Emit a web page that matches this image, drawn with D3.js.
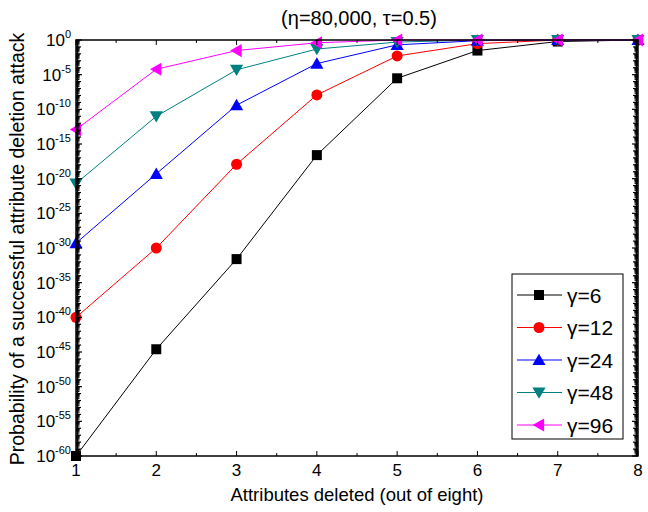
<!DOCTYPE html>
<html>
<head>
<meta charset="utf-8">
<script src="https://cdn.jsdelivr.net/npm/d3@7"></script>
<style>
  html, body { margin: 0; padding: 0; background: #fff; }
  svg { display: block; font-family: Arial, "Liberation Sans", Helvetica, sans-serif; }
</style>
</head>
<body>
<svg id="chart" width="648" height="512"></svg>
<script>
// Attributes deleted (x) and probability for each gamma setting
const attributes = [1, 2, 3, 4, 5, 6, 7, 8];
const gamma6  = [1e-60, 2.5e-45, 2.5e-32, 2.5e-17, 3e-6, 3e-2, 0.6, 1];
const gamma12 = [1e-40, 1e-30, 1.2e-18, 1.2e-8, 5e-3, 0.3, 1, 1];
const gamma24 = [5e-30, 5e-20, 4e-10, 4e-4, 0.2, 0.8, 1, 1];
const gamma48 = [2e-21, 1e-11, 5e-5, 0.05, 0.5, 1, 1, 1];
const gamma96 = [1.2e-13, 6e-5, 0.03, 0.4, 1, 1, 1, 1];
const seriesNames = ["γ=6", "γ=12", "γ=24", "γ=48", "γ=96"];
const yTickExponents = [0, -5, -10, -15, -20, -25, -30, -35, -40, -45, -50, -55, -60];
const xTickLabels = ["1", "2", "3", "4", "5", "6", "7", "8"];

const series = [
  { name: seriesNames[0], values: gamma6,  color: "#000000", symbol: "square" },
  { name: seriesNames[1], values: gamma12, color: "#ff0000", symbol: "circle" },
  { name: seriesNames[2], values: gamma24, color: "#0000ff", symbol: "up" },
  { name: seriesNames[3], values: gamma48, color: "#008080", symbol: "down" },
  { name: seriesNames[4], values: gamma96, color: "#ff00ff", symbol: "left" }
];

const svg = d3.select("#chart");
const L = 76, R = 638, T = 40, B = 456;

const x = d3.scaleLinear().domain([1, 8]).range([L, R]);
const y = d3.scaleLog().domain([1e-60, 1]).range([B, T]);

// marker shapes
function markerPath(sym, s) {
  const h = s / 2;
  switch (sym) {
    case "square": return `M${-h},${-h}H${h}V${h}H${-h}Z`;
    case "circle": return d3.symbol(d3.symbolCircle, Math.PI * h * h)();
    case "up":   return `M0,${-h * 1.05}L${h * 1.1},${h * 0.85}L${-h * 1.1},${h * 0.85}Z`;
    case "down": return `M0,${h * 1.05}L${h * 1.1},${-h * 0.85}L${-h * 1.1},${-h * 0.85}Z`;
    case "left": return `M${-h * 1.05},0L${h * 0.85},${-h * 1.1}L${h * 0.85},${h * 1.1}Z`;
  }
}
const markerSize = { square: 10, circle: 11, up: 12, down: 12, left: 12 };

const plot = svg.append("g");
const line = d3.line().x((d, i) => x(attributes[i])).y(d => y(d));

series.forEach(s => {
  plot.append("path")
    .attr("d", line(s.values))
    .attr("fill", "none")
    .attr("stroke", s.color)
    .attr("stroke-width", 1);
});
series.forEach(s => {
  plot.selectAll(null).data(s.values).enter().append("path")
    .attr("transform", (d, i) => `translate(${x(attributes[i])},${y(d)})`)
    .attr("d", markerPath(s.symbol, markerSize[s.symbol]))
    .attr("fill", s.color);
});

// axes: ticks point inward on all four sides
const axes = svg.append("g").attr("stroke", "#000").attr("fill", "none");
const decades = d3.range(-60, 1);
const minorLog = [];
decades.forEach(e => { if (e < 0) for (let k = 2; k <= 9; k++) minorLog.push(k * Math.pow(10, e)); });

// left & right log ticks
[[L, 1], [R, -1]].forEach(([x0, dir]) => {
  decades.forEach(e => {
    const yy = y(Math.pow(10, e));
    const len = (e % 5 === 0) ? 6 : 5;
    axes.append("line").attr("x1", x0).attr("x2", x0 + dir * len)
      .attr("y1", yy).attr("y2", yy).attr("stroke-width", 1.2);
  });
  minorLog.forEach(v => {
    const yy = y(v);
    axes.append("line").attr("x1", x0).attr("x2", x0 + dir * 3.5)
      .attr("y1", yy).attr("y2", yy).attr("stroke-width", 0.9);
  });
});

// bottom & top linear ticks
d3.range(1, 8.01, 0.5).forEach(v => {
  const major = Number.isInteger(v);
  const len = major ? 5 : 3;
  const xx = x(v);
  axes.append("line").attr("x1", xx).attr("x2", xx).attr("y1", B).attr("y2", B - len).attr("stroke-width", 1);
  axes.append("line").attr("x1", xx).attr("x2", xx).attr("y1", T).attr("y2", T + len).attr("stroke-width", 1);
});

// frame
axes.append("rect").attr("x", L).attr("y", T).attr("width", R - L).attr("height", B - T)
  .attr("stroke-width", 1.5);
axes.append("line").attr("x1", L + 1.5).attr("x2", L + 1.5).attr("y1", T).attr("y2", B).attr("stroke-width", 1.5);
axes.append("line").attr("x1", R - 1.5).attr("x2", R - 1.5).attr("y1", T).attr("y2", B).attr("stroke-width", 1.5);

// y tick labels: 10 with superscript exponent
const yl = svg.append("g").attr("fill", "#000").attr("font-size", 17).attr("text-anchor", "end");
yTickExponents.forEach(e => {
  const t = yl.append("text").attr("x", 71).attr("y", y(Math.pow(10, e)) + 6);
  t.append("tspan").text("10");
  t.append("tspan").attr("font-size", 11).attr("dy", -8).text(String(e));
});

// x tick labels
svg.append("g").attr("fill", "#000").attr("font-size", 17).attr("text-anchor", "middle")
  .selectAll("text").data(attributes).enter().append("text")
  .attr("x", d => x(d)).attr("y", B + 20)
  .text((d, i) => xTickLabels[i]);

// titles
svg.append("text").attr("x", 357).attr("y", 501).attr("text-anchor", "middle")
  .attr("font-size", 18.5).text("Attributes deleted (out of eight)");
svg.append("text").attr("transform", "translate(24,249) rotate(-90)").attr("text-anchor", "middle")
  .attr("font-size", 19.5).text("Probability of a successful attribute deletion attack");
svg.append("text").attr("x", 359).attr("y", 25).attr("text-anchor", "middle")
  .attr("font-size", 20).text("(η=80,000, τ=0.5)");

// legend
const lg = svg.append("g");
lg.append("rect").attr("x", 512).attr("y", 274).attr("width", 111).attr("height", 165)
  .attr("fill", "#fff").attr("stroke", "#000").attr("stroke-width", 1);
series.forEach((s, i) => {
  const yy = 295 + i * 32.5;
  lg.append("line").attr("x1", 517).attr("x2", 562).attr("y1", yy).attr("y2", yy)
    .attr("stroke", s.color).attr("stroke-width", 1);
  lg.append("path").attr("transform", `translate(539,${yy})`)
    .attr("d", markerPath(s.symbol, markerSize[s.symbol])).attr("fill", s.color);
  lg.append("text").attr("x", 567).attr("y", yy + 7.5).attr("font-size", 21).text(s.name);
});
</script>
</body>
</html>
